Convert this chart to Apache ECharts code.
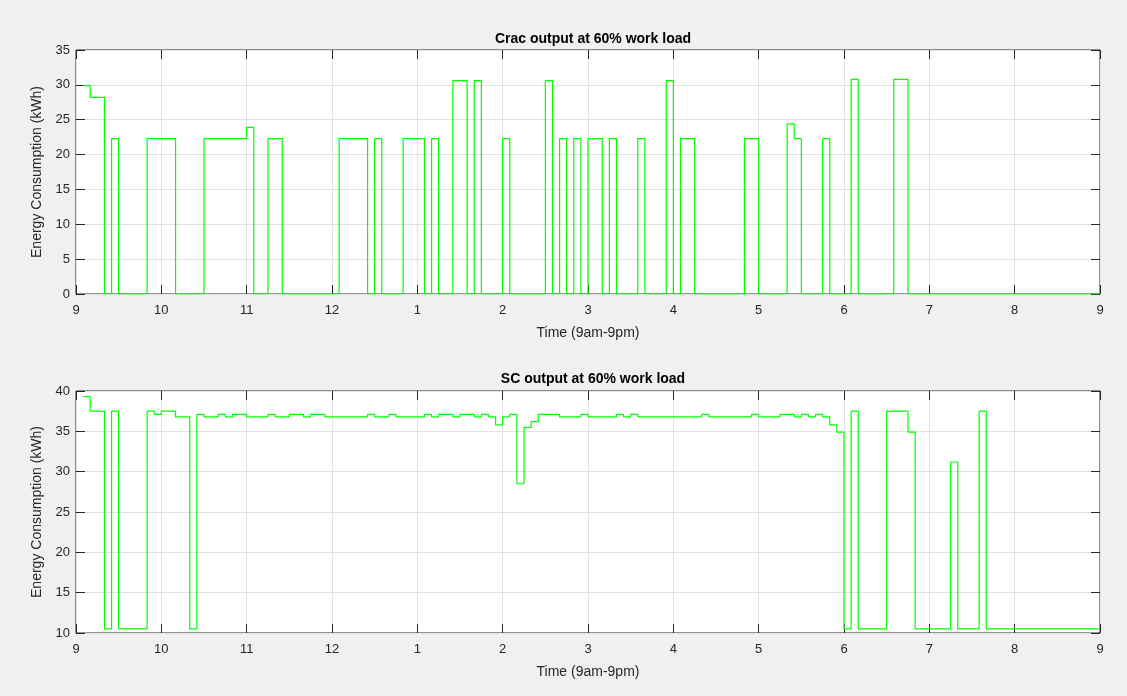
<!DOCTYPE html>
<html><head><meta charset="utf-8">
<script src="https://cdn.jsdelivr.net/npm/echarts@6/dist/echarts.min.js"></script>
<style>html,body{margin:0;padding:0;background:#f0f0f0;}#c{width:1127px;height:696px;}</style>
</head><body><div id="c"></div>
<script>
// time axis tick labels (9am - 9pm)
const hourLabels = ['9','10','11','12','1','2','3','4','5','6','7','8','9'];
// step-change times in 5-minute steps after 9am, and value held from that time
const cracT = [1,2,4,5,6,10,14,18,24,25,27,29,37,41,42,43,46,49,50,51,53,55,56,57,60,61,66,67,68,69,70,71,72,74,75,76,79,80,83,84,85,87,94,96,100,101,102,105,106,109,110,115,117,144];
const cracV = [29.9,28.2,0,22.3,0,22.3,0,22.3,23.9,0,22.3,0,22.3,0,22.3,0,22.3,0,22.3,0,30.6,0,30.6,0,22.3,0,30.6,0,22.3,0,22.3,0,22.3,0,22.3,0,22.3,0,30.6,0,22.3,0,22.3,0,24.4,22.3,0,22.3,0,30.8,0,30.8,0,0];
const scT = [1,2,4,5,6,10,11,12,14,16,17,18,20,21,22,24,27,28,30,32,33,35,41,42,44,45,49,50,51,53,54,56,57,58,59,60,61,62,63,64,65,68,71,72,76,77,78,79,88,89,95,96,99,101,102,103,104,105,106,107,108,109,110,114,117,118,123,124,127,128,144];
const scV = [39.3,37.5,10.5,37.5,10.5,37.5,37.1,37.5,36.8,10.5,37.1,36.8,37.1,36.8,37.1,36.8,37.1,36.8,37.1,36.8,37.1,36.8,37.1,36.8,37.1,36.8,37.1,36.8,37.1,36.8,37.1,36.8,37.1,36.8,35.8,36.8,37.1,28.5,35.5,36.2,37.1,36.8,37.1,36.8,37.1,36.8,37.1,36.8,37.1,36.8,37.1,36.8,37.1,36.8,37.1,36.8,37.1,36.8,35.8,34.9,10.5,37.5,10.5,37.5,34.9,10.5,31.2,10.5,37.5,10.5,10.5];
const titles = ['Crac output at 60% work load','SC output at 60% work load'];
const yName = 'Energy Consumption (kWh)';
const xName = 'Time (9am-9pm)';

const pts = (T,V)=>T.map((t,i)=>[t/12, V[i]]);
const FONT = '"Liberation Sans", Arial, Helvetica, sans-serif';
const axisCol = '#262626';
const gridCol = '#e3e3e3';
const grids = [{left:76,right:27,top:50,height:244},{left:76,right:27,top:391,height:242}];

function xAxes(gi){
  return [{
    gridIndex:gi,type:'value',min:0,max:12,interval:1,position:'bottom',
    name:xName,nameLocation:'middle',nameGap:32,
    nameTextStyle:{fontFamily:FONT,fontSize:14,color:axisCol},
    axisLine:{show:false,onZero:false},
    axisTick:{show:true,inside:true,length:9,lineStyle:{color:axisCol}},
    axisLabel:{fontFamily:FONT,fontSize:13,color:axisCol,margin:10,formatter:v=>hourLabels[Math.round(v)]},
    splitLine:{show:true,lineStyle:{color:gridCol,width:1}}
  },{
    gridIndex:gi,type:'value',min:0,max:12,interval:1,position:'top',
    axisLine:{show:false,onZero:false},axisLabel:{show:false},splitLine:{show:false},
    axisTick:{show:true,inside:true,length:9,lineStyle:{color:axisCol}}
  }];
}
function yAxes(gi,min,max){
  return [{
    gridIndex:gi,type:'value',min:min,max:max,interval:5,position:'left',
    name:yName,nameLocation:'middle',nameGap:30,
    nameTextStyle:{fontFamily:FONT,fontSize:14,color:axisCol},
    axisLine:{show:false,onZero:false},
    axisTick:{show:true,inside:true,length:9,lineStyle:{color:axisCol}},
    axisLabel:{fontFamily:FONT,fontSize:13,color:axisCol,margin:6},
    splitLine:{show:true,lineStyle:{color:gridCol,width:1}}
  },{
    gridIndex:gi,type:'value',min:min,max:max,interval:5,position:'right',
    axisLine:{show:false,onZero:false},axisLabel:{show:false},splitLine:{show:false},
    axisTick:{show:true,inside:true,length:9,lineStyle:{color:axisCol}}
  }];
}

const chart = echarts.init(document.getElementById('c'),null,{renderer:'canvas'});
chart.setOption({
  animation:false,
  backgroundColor:'#f0f0f0',
  title:[
    {text:titles[0],left:588,top:27,textAlign:'center',textStyle:{fontFamily:FONT,fontSize:14,fontWeight:'bold',color:'#000'}},
    {text:titles[1],left:588,top:367,textAlign:'center',textStyle:{fontFamily:FONT,fontSize:14,fontWeight:'bold',color:'#000'}}
  ],
  grid:grids.map(g=>Object.assign({show:true,backgroundColor:'#fff',borderColor:axisCol,borderWidth:1},g)),
  xAxis:[...xAxes(0),...xAxes(1)],
  yAxis:[...yAxes(0,0,35),...yAxes(1,10,40)],
  series:[
    {type:'line',xAxisIndex:0,yAxisIndex:0,step:'end',showSymbol:false,data:pts(cracT,cracV),lineStyle:{color:'#00ff00',width:1.2},itemStyle:{color:'#00ff00'}},
    {type:'line',xAxisIndex:2,yAxisIndex:2,step:'end',showSymbol:false,data:pts(scT,scV),lineStyle:{color:'#00ff00',width:1.2},itemStyle:{color:'#00ff00'}}
  ]
});
</script></body></html>
